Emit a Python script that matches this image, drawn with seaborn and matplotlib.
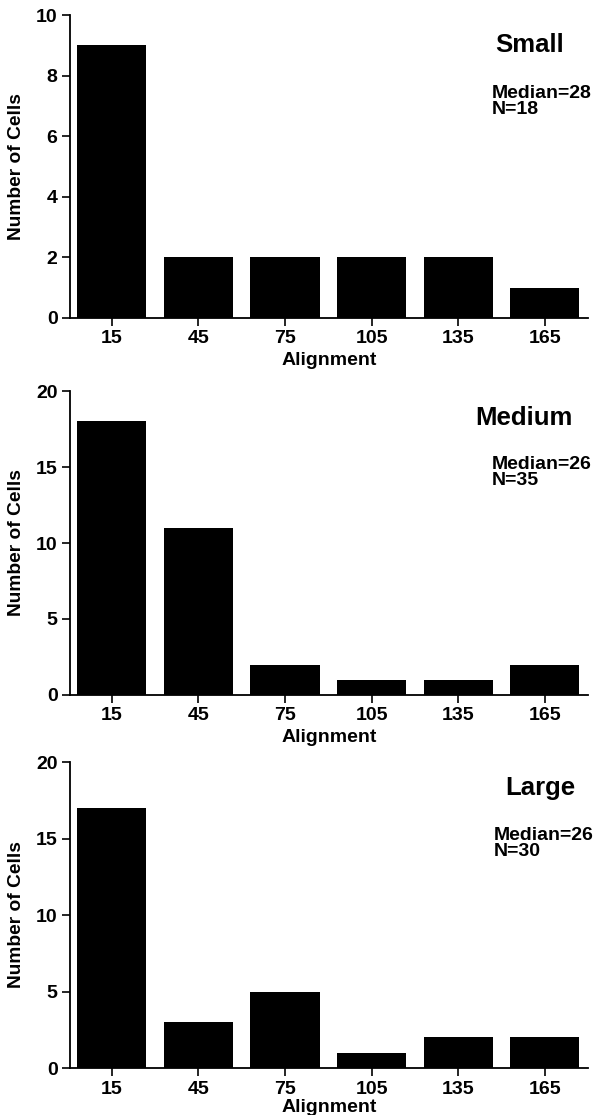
import matplotlib
matplotlib.use("Agg")
import matplotlib.pyplot as plt
import seaborn as sns
import pandas as pd

# Data
alignment = ["15", "45", "75", "105", "135", "165"]
small_counts = [9, 2, 2, 2, 2, 1]
medium_counts = [18, 11, 2, 1, 1, 2]
large_counts = [17, 3, 5, 1, 2, 2]
panel_titles = ["Small", "Medium", "Large"]
panel_medians = [28, 26, 26]
panel_ns = [18, 35, 30]
y_maxes = [10, 20, 20]
y_steps = [2, 5, 5]

sns.set_style("ticks")
plt.rcParams['font.family'] = ['Liberation Sans', 'DejaVu Sans']
plt.rcParams['text.color'] = 'black'
plt.rcParams['axes.labelcolor'] = 'black'
plt.rcParams['xtick.color'] = 'black'
plt.rcParams['ytick.color'] = 'black'

fig = plt.figure(figsize=(5.99, 11.15), dpi=100)

axes_rects = [
    [0.1169, 0.7148, 0.865, 0.2717],
    [0.1169, 0.3767, 0.865, 0.2726],
    [0.1169, 0.04215, 0.865, 0.2744],
]
title_pos = [(0.886, 0.901), (0.876, 0.911), (0.907, 0.915)]
median_pos = [(0.813, 0.768), (0.813, 0.786), (0.817, 0.787)]

all_counts = [small_counts, medium_counts, large_counts]

for i, counts in enumerate(all_counts):
    ax = fig.add_axes(axes_rects[i])
    df = pd.DataFrame({"Alignment": alignment, "Count": counts})
    sns.barplot(data=df, x="Alignment", y="Count", order=alignment,
                color="black", width=0.8, saturation=1, ax=ax,
                edgecolor="black", linewidth=0)
    ax.set_xlim(-0.48, 5.5)
    ax.set_ylim(0, y_maxes[i])
    ax.set_yticks(list(range(0, y_maxes[i] + 1, y_steps[i])))
    sns.despine(ax=ax)
    for sp in ["left", "bottom"]:
        ax.spines[sp].set_linewidth(1.3)
        ax.spines[sp].set_color("black")
    ax.tick_params(axis="both", direction="out", length=6, width=1.2,
                   color="black", labelcolor="black", labelsize=14, pad=3)
    for lab in ax.get_xticklabels() + ax.get_yticklabels():
        lab.set_fontweight("bold")
    ax.set_xlabel("Alignment", fontsize=14, fontweight="bold",
                  labelpad=1 if i == 2 else 3)
    ax.set_ylabel("Number of Cells", fontsize=13.8, fontweight="bold", labelpad=8)
    ax.text(title_pos[i][0], title_pos[i][1], panel_titles[i],
            transform=ax.transAxes, ha="center", va="center",
            fontsize=18.5, fontweight="bold")
    ax.text(median_pos[i][0], median_pos[i][1],
            f"Median={panel_medians[i]}\nN={panel_ns[i]}",
            transform=ax.transAxes, ha="left", va="top",
            fontsize=14, fontweight="bold", linespacing=0.9)

fig.savefig("out.png", dpi=100)
